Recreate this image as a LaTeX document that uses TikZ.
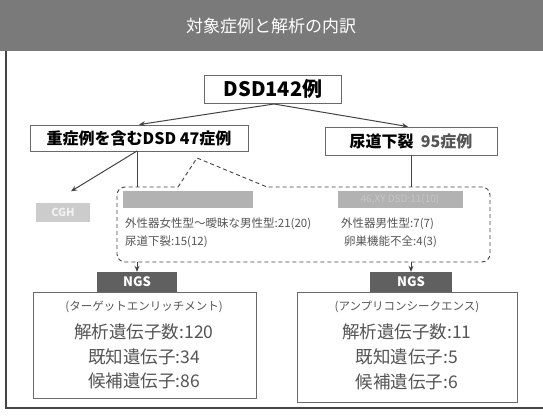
\documentclass[tikz,border=0pt]{standalone}
\usepackage{fontspec}
\setmainfont{Noto Sans CJK JP}
\usetikzlibrary{arrows.meta,calc}
\definecolor{hdr}{HTML}{7A7A7A}
\definecolor{ln}{HTML}{444444}
\definecolor{txt}{HTML}{555555}
\tikzset{
  box/.style={draw=ln!80, line width=0.8pt, fill=white, inner sep=0pt, align=center},
  bar/.style={fill=gray!60, inner sep=0pt, minimum height=17pt},
  ngsbox/.style={fill=gray!75!black, text=white, font=\fontsize{13}{13}\selectfont\bfseries, inner sep=0pt, minimum height=20pt},
  conn/.style={draw=ln, line width=1pt, -{Stealth[length=6pt,width=5pt]}},
  plain/.style={draw=ln, line width=1pt},
  small/.style={font=\fontsize{11.5}{11.5}\selectfont, text=txt, inner sep=0pt, anchor=west},
  big/.style={font=\fontsize{17.5}{17.5}\selectfont, text=txt, inner sep=0pt},
}
\begin{document}
\begin{tikzpicture}[x=1pt,y=-1pt]
\useasboundingbox (0,0) rectangle (543,415);
\fill[white] (0,0) rectangle (543,415);
% header
\node[fill=hdr, minimum width=543pt, minimum height=51pt, inner sep=0pt] (hdr) at (271.5,25.5) {};
\node[text=white, font=\fontsize{17}{17}\selectfont] (title) at (271,26) {対象症例と解析の内訳};
% frame
\draw[draw=ln, line width=1.2pt] (6,51) -- (6,408) -- (543,408);
% top nodes
\node[box, minimum width=137pt, minimum height=28pt, font=\fontsize{20}{20}\selectfont\bfseries] (dsd) at (273,89) {DSD142例};
\node[box, minimum width=218pt, minimum height=26pt, font=\fontsize{16}{16}\selectfont\bfseries] (lbox) at (139,138) {重症例を含むDSD 47症例};
\node[box, minimum width=172pt, minimum height=28pt, font=\fontsize{16}{16}\selectfont\bfseries] (rbox) at (411,141) {尿道下裂\ \ {\color{txt}95症例}};
\coordinate (dsdb) at (274,104);
\draw[conn] (dsdb) -- (lbox.north);
\draw[conn] (dsdb) -- ($(rbox.north)+(-3,0)$);
% CGH
\node[fill=gray!40, text=gray!10, minimum width=54pt, minimum height=19pt, inner sep=0pt, font=\fontsize{11}{11}\selectfont\bfseries] (cgh) at (63,212) {CGH};
\coordinate (lfoot) at (137,151);
\coordinate (cghtip) at ($(cgh.north)+(8,-11)$);
\draw[conn] (lfoot) -- (cghtip);
% callout
\draw[draw=ln, line width=0.9pt, dash pattern=on 4pt off 3pt]
  (178,187) -- (197,158) -- (267,187) [rounded corners=8pt] -- (490,187) -- (490,262) -- (117,262) -- (117,187) [sharp corners] -- cycle;
\coordinate (lvend) at (137,187);
\coordinate (rvend) at (411,187);
\draw[plain] (lfoot) -- (lvend);
\draw[plain] (rbox.south) -- (rvend);
% bars
\node[bar, minimum width=130pt] (lbar) at (188,199) {};
\node[bar, minimum width=125pt, text=gray!45, font=\fontsize{10}{10}\selectfont] (rbar) at (400,199) {46,XY DSD:11(10)};
\node[small] (t1) at (125,224) {外性器女性型～曖昧な男性型:21(20)};
\node[small] (t2) at (125,242) {尿道下裂:15(12)};
\node[small] (t3) at (341,224) {外性器男性型:7(7)};
\node[small] (t4) at (344,242) {卵巣機能不全:4(3)};
% result boxes
\node[box, minimum width=223pt, minimum height=106pt, anchor=north west] (lres) at (33,292) {};
\node[box, minimum width=220pt, minimum height=110pt, anchor=north west] (rres) at (297,292) {};
% NGS
\node[ngsbox, minimum width=80pt] (lngs) at (137,282) {NGS};
\node[ngsbox, minimum width=82pt] (rngs) at (411,282) {NGS};
\coordinate (lcb) at (lngs.north |- 0,262);
\coordinate (rcb) at (rngs.north |- 0,262);
\draw[conn] (lcb) -- (lngs.north);
\draw[conn] (rcb) -- (rngs.north);
\node[font=\fontsize{11.5}{11.5}\selectfont, text=txt] (l0) at (144,307) {(ターゲットエンリッチメント)};
\node[big] (l1) at (144,332) {解析遺伝子数:120};
\node[big] (l2) at (144,357) {既知遺伝子:34};
\node[big] (l3) at (144,381) {候補遺伝子:86};
\node[font=\fontsize{11.5}{11.5}\selectfont, text=txt] (r0) at (407,307) {(アンプリコンシークエンス)};
\node[big] (r1) at (407,332) {解析遺伝子数:11};
\node[big] (r2) at (407,357) {既知遺伝子:5};
\node[big] (r3) at (407,382) {候補遺伝子:6};
\end{tikzpicture}
\end{document}
